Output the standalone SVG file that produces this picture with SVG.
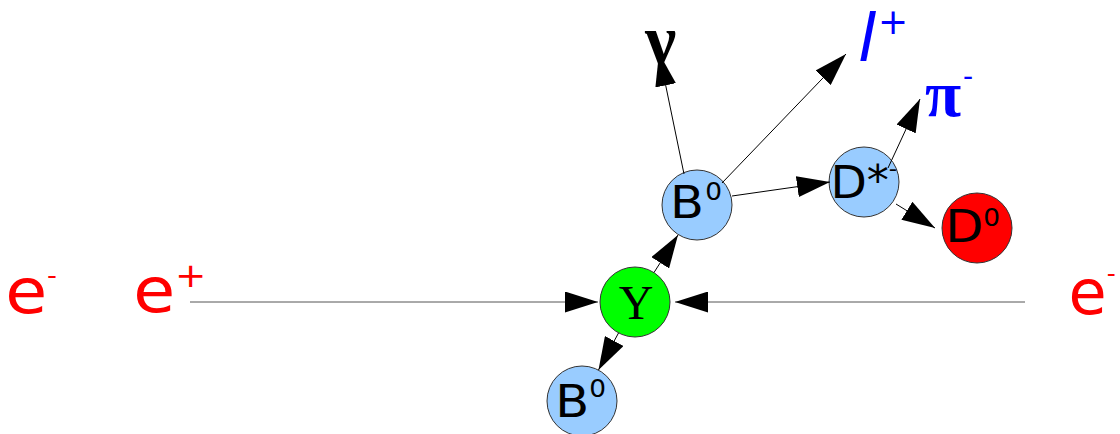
<svg xmlns="http://www.w3.org/2000/svg" width="1120" height="434" viewBox="0 0 1120 434">
<defs>
<marker id="ah" markerUnits="userSpaceOnUse" markerWidth="33" markerHeight="21" refX="33" refY="10.5" orient="auto" viewBox="0 0 33 21">
<path d="M0,0 L33,10.5 L0,21 z" fill="#000"/>
</marker>
<style>
.node{stroke:#333;stroke-width:1}
.blue{fill:#99ccff}
.lbl{font-family:"DejaVu Sans",sans-serif;font-size:45px;fill:#000}
.big{font-family:"DejaVu Sans",sans-serif;font-size:62px;fill:#ff0000}
.serif{font-family:"Liberation Serif",serif;font-weight:bold}
.c{stroke:#000;stroke-width:1;fill:none;marker-end:url(#ah)}
.beam{stroke:#555;stroke-width:1;fill:none;marker-end:url(#ah)}
</style>
</defs>
<rect width="1120" height="434" fill="#fff"/>
<g id="labels">
<text class="big" transform="translate(5.2,313) scale(1.1,1)">e<tspan x="38.1" y="-29.4" font-size="25">-</tspan></text>
<text class="big" transform="translate(133.2,312) scale(1.1,1)">e<tspan x="38.1" y="-25" font-size="34">+</tspan></text>
<text class="big" transform="translate(1068.6,314)">e<tspan x="38.1" y="-32.4" font-size="25">-</tspan></text>
<text id="nu" class="serif" x="645" y="63" style="font-size:70px;fill:#000">ν</text>
<text id="lplus" x="858" y="61" style="font-family:'DejaVu Sans',sans-serif;font-size:66px;fill:#0000ff"><tspan font-style="italic">l</tspan><tspan x="878" y="34" font-size="36">+</tspan></text>
<text id="pimin" class="serif" x="925" y="116" style="font-size:66px;fill:#0000ff">π<tspan x="963" y="86" font-size="28" font-family="DejaVu Sans" font-weight="normal">-</tspan></text>
</g>
<g id="Y">
<circle cx="635" cy="302" r="35" class="node" fill="#00ff00"/>
<text x="636" y="319" text-anchor="middle" style="font-family:'Liberation Serif',serif;font-size:48px;fill:#000">Y</text>
</g>
<g id="B0up">
<circle cx="697" cy="205" r="35" class="node blue"/>
<text class="lbl" transform="translate(670.1,218) scale(1.1,1)">B<tspan x="31.9" y="-18" font-size="24">0</tspan></text>
</g>
<g id="B0down">
<circle cx="582" cy="401" r="35" class="node blue"/>
<text class="lbl" transform="translate(555.2,417) scale(1.1,1)">B<tspan x="30.9" y="-20" font-size="24">0</tspan></text>
</g>
<g id="Dstar">
<circle cx="864" cy="182" r="35" class="node blue"/>
<text class="lbl" transform="translate(830.4,198) scale(1.05,1)">D<tspan x="34.65" y="-3" font-size="42">*</tspan><tspan x="55.65" y="-21.6" font-size="22">-</tspan></text>
</g>
<g id="D0">
<circle cx="977" cy="228" r="35" class="node" fill="#ff0000"/>
<text class="lbl" transform="translate(945.2,242) scale(1.1,1)">D<tspan x="34.6" y="-16" font-size="24">0</tspan></text>
</g>
<g id="connectors">
<line class="beam" x1="190" y1="302" x2="598" y2="302"/>
<line class="beam" x1="1025" y1="302" x2="675" y2="302"/>
<line class="c" x1="654" y1="272.5" x2="678" y2="235"/>
<line class="c" x1="618.5" y1="333" x2="598.5" y2="370"/>
<line class="c" x1="684" y1="174" x2="659" y2="53"/>
<line class="c" x1="722" y1="183" x2="846" y2="54"/>
<line class="c" x1="732" y1="196" x2="830" y2="182"/>
<line class="c" x1="888" y1="168" x2="920" y2="99"/>
<line class="c" x1="896" y1="204" x2="935" y2="228"/>
</g>
</svg>
